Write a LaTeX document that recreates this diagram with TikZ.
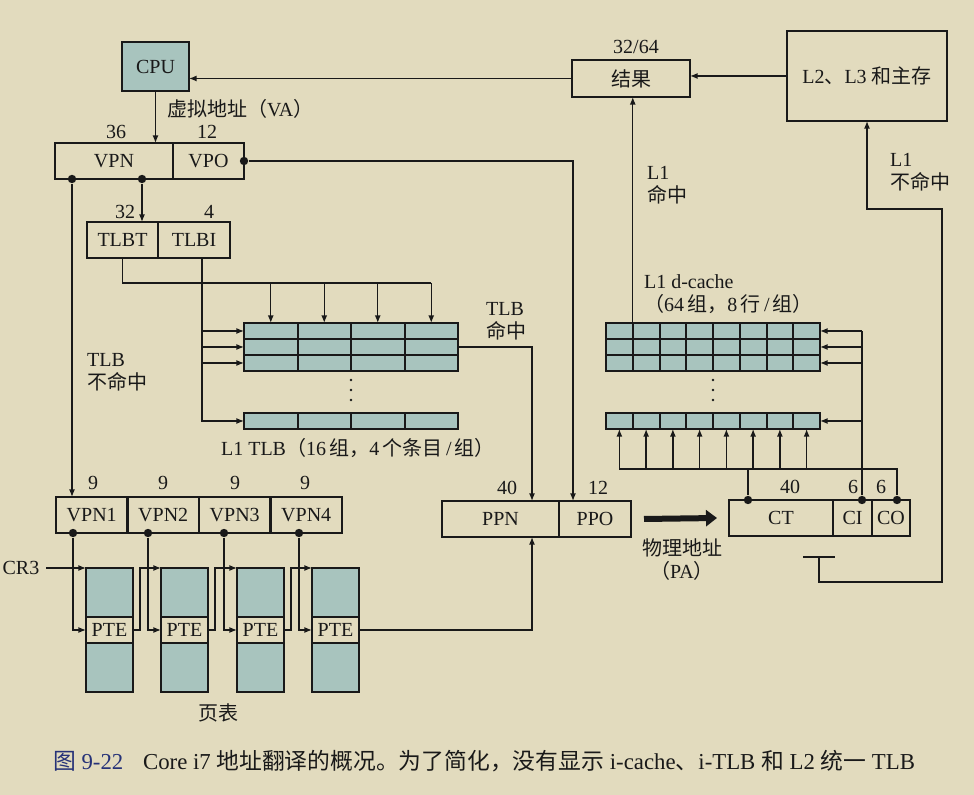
\documentclass[tikz,border=0pt]{standalone}
\usepackage{fontspec}
\setmainfont{Liberation Serif}
\newfontfamily\cjk{Noto Sans CJK SC}
\newcommand\zh[1]{{\cjk #1}}
\usetikzlibrary{arrows.meta,positioning,calc}
\definecolor{paper}{RGB}{226,219,190}
\definecolor{slate}{RGB}{168,196,190}
\definecolor{ink}{RGB}{25,25,25}
\definecolor{capblue}{RGB}{38,50,120}

\begin{document}
\begin{tikzpicture}[x=0.5pt,y=-0.5pt,every node/.style={font=\fontsize{10}{11.5}\selectfont,text=ink},fld/.style={draw=ink,line width=1.3pt,outer sep=0pt,inner sep=0pt,minimum height=18pt},cell/.style={draw=ink,line width=1pt,fill=slate,outer sep=0pt,inner sep=0pt,minimum width=26.75pt,minimum height=8pt},ccell/.style={cell,minimum width=13.375pt},ptbox/.style={draw=ink,line width=1.1pt,fill=slate,outer sep=0pt,inner sep=0pt,minimum width=23.5pt,minimum height=24.5pt},arr/.style={-{Latex[length=3.8pt,width=3pt]},line width=0.65pt,draw=ink},wire/.style={line width=0.65pt,draw=ink},dot/.style={circle,fill=ink,inner sep=0pt,minimum size=4.2pt},fat/.style={-{Triangle[length=5.5pt,width=8pt]},line width=3pt,draw=ink}]
\useasboundingbox[fill=paper] (0,0) rectangle (974,795);
\node[fld,fill=slate,minimum width=33.5pt,minimum height=24.5pt,anchor=north west] (cpu) at (122,42) {CPU};
\node[fld,minimum width=59pt,anchor=north west] (vpn) at (55,143) {VPN};
\node[fld,minimum width=35.5pt,right=0pt of vpn] (vpo) {VPO};
\node[fld,minimum width=35.5pt,anchor=north west] (tlbt) at (87,222) {TLBT};
\node[fld,minimum width=36pt,right=0pt of tlbt] (tlbi) {TLBI};
\node[fld,minimum width=35.75pt,anchor=north west] (vpn1) at (56,497) {VPN1};
\foreach \i/\j in {1/2,2/3,3/4} \node[fld,minimum width=35.75pt,right=0pt of vpn\i] (vpn\j) {VPN\j};
\node[fld,minimum width=58.5pt,anchor=north west] (ppn) at (442,501) {PPN};
\node[fld,minimum width=36pt,right=0pt of ppn] (ppo) {PPO};
\node[fld,minimum width=59pt,minimum height=18.5pt,anchor=north west] (res) at (572,60) {\zh{结果}};
\node[fld,minimum width=80pt,minimum height=45pt,anchor=north west] (mem) at (787,31) {L2\zh{、}L3 \zh{和主存}};
\node[fld,minimum width=52pt,anchor=north west] (ct) at (729,500) {CT};
\node[fld,minimum width=19.5pt,right=0pt of ct] (ci) {CI};
\node[fld,minimum width=19pt,right=0pt of ci] (co) {CO};
\foreach \r/\y in {0/323,1/339,2/355,3/413} \foreach \c in {0,...,3} \node[cell,anchor=north west] (t\r\c) at (244+53.5*\c,\y) {};
\foreach \r/\y in {0/323,1/339,2/355,3/413} \foreach \c in {0,...,7} \node[ccell,anchor=north west] (c\r\c) at (606+26.75*\c,\y) {};
\foreach \k in {0,1,2} {\fill[ink] (351,380+10*\k) circle (0.7pt); \fill[ink] (713,380+10*\k) circle (0.7pt);}
\foreach \i/\x in {1/86,2/161,3/237,4/312} {\node[ptbox,anchor=north west] (ptu\i) at (\x,568) {}; \node[ptbox,fill=paper,minimum height=13pt,below=0pt of ptu\i] (pte\i) {PTE}; \node[ptbox,below=0pt of pte\i] (ptl\i) {};}
\foreach \t/\x/\y [count=\k] in {36/116/132,12/207/132,32/125/212,4/209/212,9/93/483,9/163/483,9/235/483,9/305/483,40/507/488,12/598/488,{32/64}/636/47,40/790/487,6/853/487,6/881/487} \node[inner sep=0pt] (bits\k) at (\x,\y) {\t};
\node[anchor=west] (valbl) at (160,109) {\zh{虚拟地址（}VA\zh{）}};
\node[anchor=west,align=left] (tlbhit) at (479,321) {TLB\\\zh{命中}};
\node[anchor=west,align=left] (tlbmiss) at (80,372) {TLB\\\zh{不命中}};
\node[anchor=west,align=left] (l1hit) at (640,185) {L1\\\zh{命中}};
\node[anchor=west,align=left] (l1miss) at (883,172) {L1\\\zh{不命中}};
\node[anchor=west,align=left] (dcache) at (637,294) {L1 d-cache\\\zh{（}64\,\zh{组，}8\,\zh{行}\,/\,\zh{组）}};
\node[anchor=west] (tlblbl) at (214,448) {L1 TLB\zh{（}16\,\zh{组，}4\,\zh{个条目}\,/\,\zh{组）}};
\node (ptlbl) at (218,713) {\zh{页表}};
\node[align=center] (palbl) at (682,560) {\zh{物理地址}\\\zh{（}PA\zh{）}};
\node (cr3) at (21,568) {CR3};
\node[anchor=west,text=capblue,font=\fontsize{11.4}{13}\selectfont] (figno) at (46,761) {\zh{图} 9-22};
\node[anchor=west,font=\fontsize{11.4}{13}\selectfont] (caption) at (136,761) {Core i7 \zh{地址翻译的概况。为了简化，没有显示} i-cache\zh{、}i-TLB \zh{和} L2 \zh{统一} TLB};
\draw[arr] (cpu.south) -- (cpu.south |- vpn.north);
\draw[arr] (res.west) -- (res.west -| cpu.east);
\draw[arr] (mem.west) -- (mem.west -| res.east);
\node[dot] (vd1) at ($(vpn.south west)+(17,0)$) {};
\node[dot] (vd2) at ($(vpn.south west)+(87,0)$) {};
\node[dot] (vod) at (vpo.east) {};
\draw[arr] (vd1) -- (vd1 |- vpn1.north);
\draw[arr] (vd2) -- (vd2 |- tlbt.north);
\coordinate (ppoin) at ($(ppo.north west)+(14,0)$);
\coordinate (ppnin) at ($(ppn.north east)+(-27,0)$);
\draw[arr] (vod) -| (ppoin);
\coordinate (tbus) at (0,283);
\draw[wire] (tlbt.south) |- (t03.north |- tbus);
\foreach \c in {0,...,3} \draw[arr] (t0\c.north |- tbus) -- (t0\c.north);
\coordinate (tiout) at ($(tlbi.south)+(8,0)$);
\draw[arr] (tiout) |- (t30.west);
\foreach \r in {0,1,2} \draw[arr] (tiout |- t\r0.west) -- (t\r0.west);
\draw[arr] (t13.east) -| (ppnin);
\foreach \i in {1,...,4} {\coordinate (px\i) at ($(pte\i.west)+(-13,0)$); \node[dot] (pd\i) at (px\i |- vpn\i.south) {}; \draw[arr] (pd\i) |- (pte\i.west);}
\draw[arr] (cr3) -- (ptu1.north west);
\foreach \i/\j in {1/2,2/3,3/4} \draw[arr] (pte\i.east) -- ++(7,0) |- (ptu\j.north west);
\draw[arr] (pte4.east) -| (ppnin |- ppn.south);
\draw[arr] (c00.north east) -- (c00.north east |- res.south);
\node[dot] (ctd) at ($(ct.north west)+(19,0)$) {};
\node[dot] (cid) at ($(ci.north east)+(-10,0)$) {};
\node[dot] (cod) at ($(co.north west)+(25,0)$) {};
\coordinate (cbus) at (0,469);
\draw[wire] (ctd) -- (ctd |- cbus);
\draw[wire] (cod) |- (c30.south |- cbus);
\foreach \c in {0,...,7} \draw[arr] (c3\c.south |- cbus) -- (c3\c.south);
\draw[wire] (cid) -- (cid |- c07.east);
\foreach \r in {0,...,3} \draw[arr] (cid |- c\r7.east) -- (c\r7.east);
\coordinate (tbar) at (819,557);
\coordinate (miss1) at (942,582);
\coordinate (miss2) at (942,209);
\draw[wire] ($(tbar)+(-16,0)$) -- ($(tbar)+(16,0)$);
\draw[arr] (tbar) |- (miss1) -- (miss2) -| (mem.south);
\draw[fat] ($(ppo.east)+(13,0)$) -- ($(ct.west)+(-12,0)$);
\end{tikzpicture}
\end{document}
